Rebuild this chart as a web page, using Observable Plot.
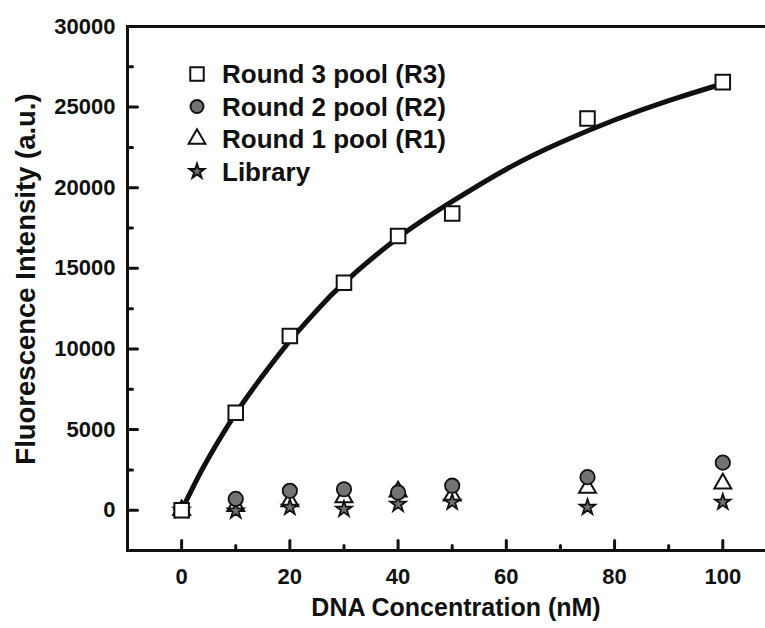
<!DOCTYPE html>
<html><head><meta charset="utf-8">
<script src="https://cdn.jsdelivr.net/npm/d3@7"></script>
<script src="https://cdn.jsdelivr.net/npm/@observablehq/plot@0.6"></script>
<style>html,body{margin:0;padding:0;background:#fff;overflow:hidden}</style>
</head><body><div id="chart"></div>
<script>
// ---- data ----
const concentrations = [0, 10, 20, 30, 40, 50, 75, 100];
const round3 = [0, 6050, 10800, 14100, 17000, 18400, 24300, 26550];
const round2 = [0, 700, 1200, 1300, 1100, 1520, 2050, 2950];
const round1 = [0, 250, 550, 800, 1150, 900, 1380, 1650];
const library = [0, -50, 180, 60, 370, 500, 180, 500];
// fitted saturation curve for R3
const fitConc = [0, 2.5, 5, 10, 15, 20, 25, 30, 40, 50, 60, 70, 80, 90, 100];
const fitR3 = [0, 1700, 3250, 6000, 8350, 10500, 12400, 14100, 16900, 19150, 21150, 22800, 24200, 25400, 26450];
const xTicks = [0, 20, 40, 60, 80, 100];
const xMinorTicks = [10, 30, 50, 70, 90];
const yTicks = [0, 5000, 10000, 15000, 20000, 25000, 30000];
const yMinorTicks = [2500, 7500, 12500, 17500, 22500, 27500];
const seriesNames = ["Round 3 pool (R3)", "Round 2 pool (R2)", "Round 1 pool (R1)", "Library"];
const xLabel = "DNA Concentration (nM)";
const yLabel = "Fluorescence Intensity (a.u.)";

const rows = vals => concentrations.map((c, i) => ({x: c, y: vals[i]}));
const fitRows = fitConc.map((c, i) => ({x: c, y: fitR3[i]}));

const font = "'Liberation Sans', Arial, Helvetica, sans-serif";
const ink = "#111";
const gray = "#737373";

const sym = {
  square: {symbol: "square", r: 8.2, fill: "#fff"},
  circle: {symbol: "circle", r: 7.2, fill: gray},
  triangle: {symbol: "triangle", r: 6.3, fill: "#fff"},
  star: {symbol: "star", r: 4.9, fill: gray}
};

// a plain line segment shape for inward-pointing ticks
const tickShape = {draw(context, l) { context.moveTo(0, 0); context.lineTo(0, -l); }};
const inTicks = (values, k, len) => Plot.vector(values, {
  [k]: d => d,
  frameAnchor: k === "y" ? "left" : "bottom",
  rotate: k === "y" ? 90 : 0,
  length: len, anchor: "start", shape: tickShape,
  stroke: ink, strokeWidth: 3
});

const plot = Plot.plot({
  width: 765, height: 628,
  marginLeft: 127, marginRight: -6, marginTop: 26, marginBottom: 78,
  x: {domain: [-10, 109]},
  y: {domain: [-2500, 30000]},
  style: {fontFamily: font, fontWeight: "bold", fontSize: "22px", color: ink, background: "#fff"},
  marks: [
    Plot.frame({stroke: ink, strokeWidth: 3}),
    Plot.axisY({ticks: yTicks, tickSize: 0, tickPadding: 12, fontSize: 22, label: null, tickFormat: d => String(d)}),
    Plot.axisX({ticks: xTicks, tickSize: 0, tickPadding: 18, fontSize: 22, label: null, tickFormat: d => String(d)}),
    inTicks(yTicks, "y", 10),
    inTicks(yMinorTicks, "y", 5),
    inTicks(xTicks, "x", 10),
    inTicks(xMinorTicks, "x", 5),
    Plot.dot(rows(round1), {x: "x", y: "y", ...sym.triangle, stroke: ink, strokeWidth: 2}),
    Plot.dot(rows(library), {x: "x", y: "y", ...sym.star, stroke: ink, strokeWidth: 1.8}),
    Plot.dot(rows(round2), {x: "x", y: "y", ...sym.circle, stroke: ink, strokeWidth: 1.8}),
    Plot.line(fitRows, {x: "x", y: "y", curve: "natural", stroke: ink, strokeWidth: 5}),
    Plot.dot(rows(round3), {x: "x", y: "y", ...sym.square, stroke: ink, strokeWidth: 2})
  ]
});

const svg = d3.select(plot);

// axis titles
svg.append("text")
  .attr("transform", "translate(25,279) rotate(-90)")
  .attr("text-anchor", "middle").attr("dominant-baseline", "central")
  .attr("font-family", font).attr("font-weight", "bold").attr("font-size", 27.5)
  .attr("fill", ink).text(yLabel);
svg.append("text")
  .attr("x", 456).attr("y", 607)
  .attr("text-anchor", "middle").attr("dominant-baseline", "central")
  .attr("font-family", font).attr("font-weight", "bold").attr("font-size", 25)
  .attr("fill", ink).text(xLabel);

// legend
const legendSyms = [
  {type: d3.symbolSquare, r: 7.6, fill: "#fff"},
  {type: d3.symbolCircle, r: 6.5, fill: gray},
  {type: d3.symbolTriangle, r: 6.2, fill: "#fff"},
  {type: d3.symbolStar, r: 4.6, fill: gray}
];
const lg = svg.append("g").attr("font-family", font).attr("font-weight", "bold").attr("font-size", 26).attr("fill", ink);
seriesNames.forEach((name, i) => {
  const s = legendSyms[i];
  const cy = 74 + i * 32.5;
  lg.append("path")
    .attr("transform", `translate(197,${cy})`)
    .attr("d", d3.symbol(s.type, Math.PI * s.r * s.r)())
    .attr("fill", s.fill).attr("stroke", ink).attr("stroke-width", 2);
  lg.append("text").attr("x", 222).attr("y", cy)
    .attr("text-anchor", "start").attr("dominant-baseline", "central").text(name);
});

document.getElementById("chart").appendChild(plot);
</script>
</body></html>
